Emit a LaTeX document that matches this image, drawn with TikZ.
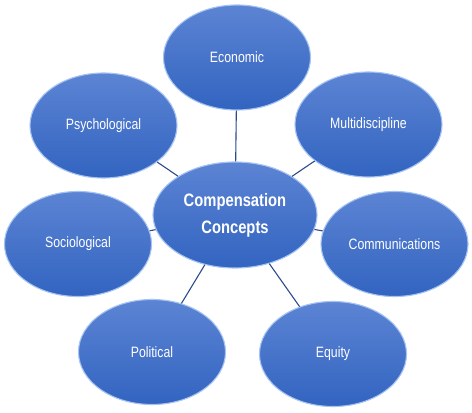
\documentclass[tikz,border=0pt]{standalone}
\usepackage{fontspec}
\setmainfont{Liberation Sans}
\newfontfamily\narrowfont[FakeStretch=0.82]{Liberation Sans}
\usetikzlibrary{shapes.geometric}
\definecolor{topblue}{RGB}{92,132,212}
\definecolor{botblue}{RGB}{50,100,192}
\definecolor{rimblue}{RGB}{165,195,242}
\definecolor{linkblue}{RGB}{45,75,140}
\tikzset{
  bubble/.style={ellipse, inner sep=0pt, minimum width=147pt, minimum height=105pt,
    top color=topblue, bottom color=botblue, draw=rimblue, line width=1.1pt,
    text=white, font=\narrowfont\fontsize{15}{18}\selectfont},
  hub/.style={bubble, minimum width=164pt, minimum height=106pt, align=center,
    font=\narrowfont\bfseries\fontsize{18}{27}\selectfont},
  link/.style={draw=linkblue, line width=1.1pt}
}
\begin{document}
\begin{tikzpicture}[x=1pt,y=1pt]
\useasboundingbox (0,0) rectangle (472,413);
\path[fill=white] (0,0) rectangle (472,413);
% link lines first (behind)
\coordinate (cc) at (235,198);
\coordinate (ce) at (237,355.5);
\coordinate (cp) at (103.5,287.5);
\coordinate (cm) at (368.5,288.5);
\coordinate (cs) at (78,169);
\coordinate (cco) at (394.5,169);
\coordinate (cpo) at (152,61);
\coordinate (ceq) at (333,59);
\node[hub] (center) at (cc) {Compensation\\Concepts};
\node[bubble] (econ) at (ce) {Economic};
\node[bubble] (psych) at (cp) {Psychological};
\node[bubble] (multi) at (cm) {Multidiscipline};
\node[bubble] (soc) at (cs) {Sociological};
\node[bubble] (comm) at (cco) {Communications};
\node[bubble] (pol) at (cpo) {Political};
\node[bubble] (eq) at (ceq) {Equity};
\foreach \n in {econ,psych,multi,soc,comm,pol,eq}
  \draw[link] (center) -- (\n);
\end{tikzpicture}
\end{document}
